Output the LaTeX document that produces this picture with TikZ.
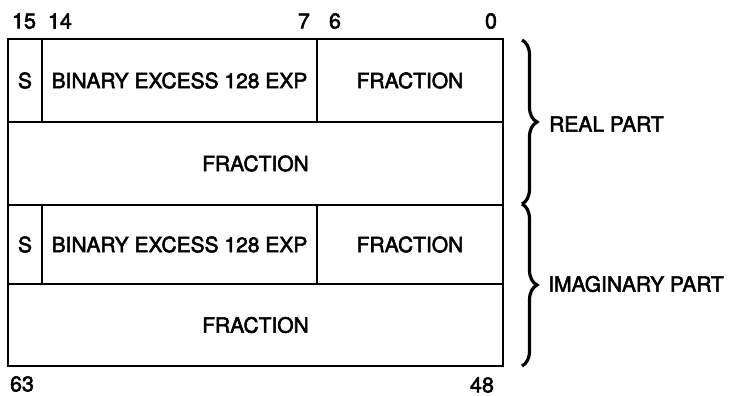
\documentclass[tikz,border=0pt]{standalone}
\usepackage{fontspec}
\setmainfont[FakeBold=2.5]{TeX Gyre Heros}
\usetikzlibrary{decorations.pathreplacing}
\begin{document}
\begin{tikzpicture}[x=1pt,y=-1pt,
  cell/.style={draw=black,line width=2.4pt,rectangle,inner sep=0pt,anchor=center,
    font=\fontsize{21}{24}\selectfont},
  bitlbl/.style={inner sep=0pt,anchor=center,font=\fontsize{21.5}{24}\selectfont},
  partlbl/.style={inner sep=0pt,anchor=west,font=\fontsize{21}{24}\selectfont},
  bracestyle/.style={decorate,decoration={brace,amplitude=15pt},line width=3.2pt}]
\useasboundingbox (0,0) rectangle (736,396);
% row 1
\node[cell,minimum width=34pt,minimum height=83pt] (s1) at (25,80.5) {S};
\node[cell,minimum width=275pt,minimum height=83pt] (e1) at (179.5,80.5) {BINARY EXCESS 128 EXP};
\node[cell,minimum width=186pt,minimum height=83pt] (f1) at (410,80.5) {FRACTION};
% row 2
\node[cell,minimum width=495pt,minimum height=83pt] (r2) at (255.5,163.5) {FRACTION};
% row 3
\node[cell,minimum width=34pt,minimum height=79pt] (s3) at (25,244.5) {S};
\node[cell,minimum width=275pt,minimum height=79pt] (e3) at (179.5,244.5) {BINARY EXCESS 128 EXP};
\node[cell,minimum width=186pt,minimum height=79pt] (f3) at (410,244.5) {FRACTION};
% row 4
\node[cell,minimum width=495pt,minimum height=82pt] (r4) at (255.5,325) {FRACTION};
% bit labels
\node[bitlbl] (b15) at (24,21) {15};
\node[bitlbl] (b14) at (60,21) {14};
\node[bitlbl] (b7) at (304,21) {7};
\node[bitlbl] (b6) at (335,21) {6};
\node[bitlbl] (b0) at (491,21) {0};
\node[bitlbl] (b63) at (22,384) {63};
\node[bitlbl] (b48) at (482,385) {48};
% braces
\coordinate (br1t) at (522,40);
\coordinate (br1b) at (522,204);
\coordinate (br2b) at (522,366);
\draw[bracestyle] (br1t) -- (br1b);
\draw[bracestyle] (br1b) -- (br2b);
\node[partlbl] (real) at (549,124) {REAL PART};
\node[partlbl] (imag) at (548,284) {IMAGINARY PART};
\end{tikzpicture}
\end{document}
